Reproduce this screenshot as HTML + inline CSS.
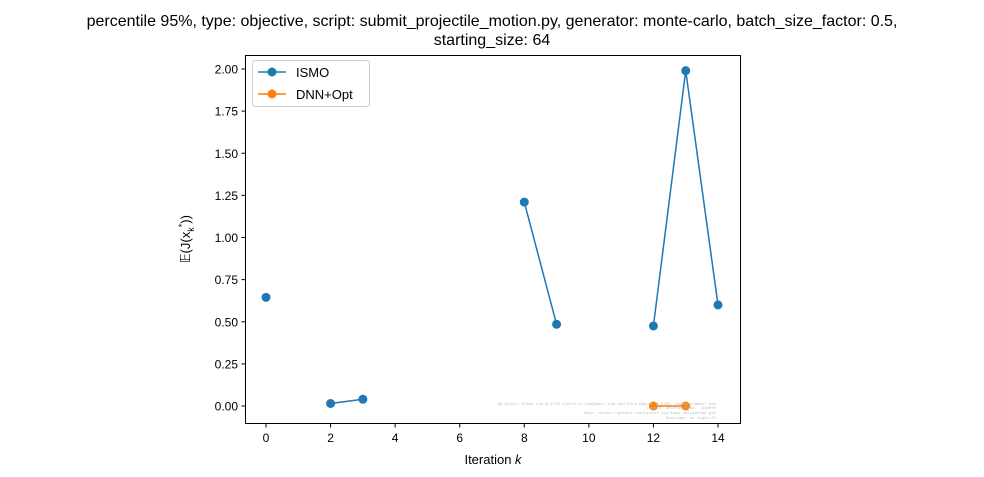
<!DOCTYPE html>
<html><head><meta charset="utf-8"><style>body{margin:0;background:#fff}svg{display:block;font-family:"Liberation Sans","DejaVu Sans",sans-serif}</style></head>
<body>
<svg id="chart" width="984" height="477">
<text x="492" y="26" font-size="16" text-anchor="middle">percentile 95%, type: objective, script: submit_projectile_motion.py, generator: monte-carlo, batch_size_factor: 0.5,</text>
<text x="492" y="45" font-size="16" text-anchor="middle">starting_size: 64</text>
<rect x="245.5" y="55.5" width="495" height="368" fill="none" stroke="#000" stroke-width="1"/>
<g id="xt"></g><g id="yt"></g><g id="marks"></g>
<text x="493" y="464" font-size="13" text-anchor="middle">Iteration <tspan font-style="italic">k</tspan></text>
<text transform="translate(190,239) rotate(-90)" font-size="13" text-anchor="middle">𝔼(J(x<tspan font-size="9" dy="4">k</tspan><tspan font-size="9" dy="-9">*</tspan><tspan dy="5">))</tspan></text>
<g font-family="Liberation Mono, monospace" font-size="4" fill="#bbb" text-anchor="end">
<text x="716" y="405">By Kjetil Olsen Lye @ ETHZ kjetil.o.lye@gmail.com and Ezra Wagner @ ETHZ, ekwagner@mail.edu</text>
<text x="716" y="409">Commit: 3e1ef4f1f8b9...5190fe</text>
<text x="716" y="414">Repo: https://github.com/kjetil-lye/ismo_validation.git</text>
<text x="716" y="419">Hostname: eu-login-27</text>
</g>
<g>
<rect x="252.5" y="60.5" width="117" height="46" rx="3" fill="#fff" fill-opacity="0.8" stroke="#ccc"/>
<line x1="258" y1="72" x2="286" y2="72" stroke="#1f77b4" stroke-width="1.5"/>
<circle cx="272" cy="72" r="4.5" fill="#1f77b4"/>
<text x="296" y="77" font-size="13">ISMO</text>
<line x1="258" y1="94" x2="286" y2="94" stroke="#ff7f0e" stroke-width="1.5"/>
<circle cx="272" cy="94" r="4.5" fill="#ff7f0e"/>
<text x="296" y="99" font-size="13">DNN+Opt</text>
</g>
</svg>
<script>
const xTicks=[0,2,4,6,8,10,12,14];
const yTicks=[0,0.25,0.5,0.75,1.0,1.25,1.5,1.75,2.0];
const ismoX=[0,1,2,3,4,5,6,7,8,9,10,11,12,13,14];
const ismoY=[0.645,null,0.015,0.04,null,null,null,null,1.21,0.485,null,null,0.475,1.99,0.6];
const dnnX=[12,13];
const dnnY=[0.0,0.0];
const NS="http://www.w3.org/2000/svg";
const xs=v=>266+v*(718-266)/14;
const ys=v=>406-v*(406-69)/2;
function mk(t,a,p){const e=document.createElementNS(NS,t);for(const k in a)e.setAttribute(k,a[k]);p.appendChild(e);return e;}
const xt=document.getElementById('xt'),yt=document.getElementById('yt'),m=document.getElementById('marks');
xTicks.forEach(v=>{const l=mk('line',{x1:xs(v),x2:xs(v),y1:423.5,y2:427.5,stroke:'#000'},xt);


const t=mk('text',{x:xs(v),y:442,'font-size':12,'text-anchor':'middle'},xt);t.textContent=v;

});
yTicks.forEach(v=>{const l=mk('line',{x1:241.5,x2:245.5,y1:ys(v),y2:ys(v),stroke:'#000'},yt);


const t=mk('text',{x:238,y:ys(v)+4.5,'font-size':12,'text-anchor':'end'},yt);t.textContent=v.toFixed(2);

});
function series(X,Y,c,name){let seg=[];const segs=[];
X.forEach((x,i)=>{if(Y[i]===null){if(seg.length)segs.push(seg);seg=[];}else seg.push([xs(x),ys(Y[i])]);});
if(seg.length)segs.push(seg);
segs.forEach(s=>{if(s.length>1){const p=mk('polyline',{points:s.map(q=>q.join(',')).join(' '),fill:'none',stroke:c,'stroke-width':1.5},m);

}});
X.forEach((x,i)=>{if(Y[i]===null)return;const ci=mk('circle',{cx:xs(x),cy:ys(Y[i]),r:4.5,fill:c},m);

});}
series(ismoX,ismoY,'#1f77b4','ismo');
series(dnnX,dnnY,'#ff7f0e','dnn-opt');
</script>
</body></html>
